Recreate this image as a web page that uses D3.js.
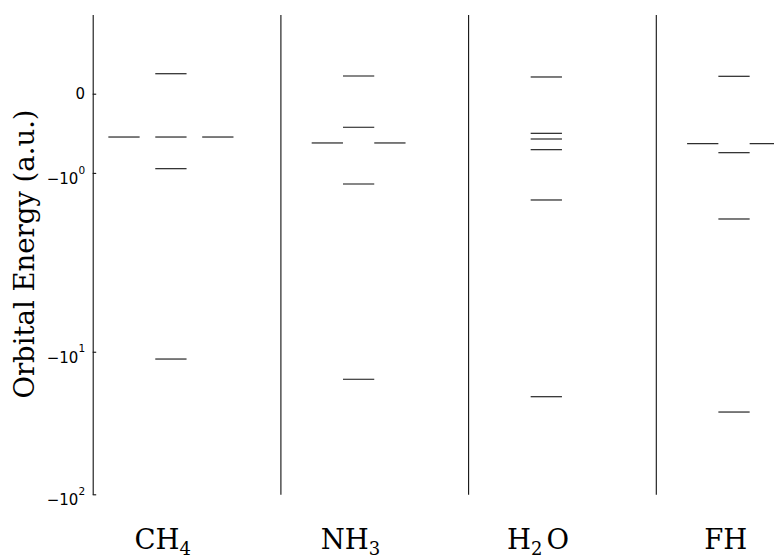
<!DOCTYPE html>
<html>
<head>
<meta charset="utf-8">
<script src="https://cdn.jsdelivr.net/npm/d3@7"></script>
<style>
  body { margin: 0; background: #fff; }
  svg { display: block; }
</style>
</head>
<body>
<svg id="chart" width="774" height="555"></svg>
<script>
// Molecules, one panel each
const molecules = ["CH4", "NH3", "H2O", "FH"];
// Axis label pieces: main part, subscript, trailing part
const labelMain = ["CH", "NH", "H", "FH"];
const labelSub = ["4", "3", "2", ""];
const labelTail = ["", "", "O", ""];

// Orbital energies in hartree; degenerate levels repeated
const energiesCH4 = [-11.25, -0.947, -0.547, -0.547, -0.547, 0.252];
const energiesNH3 = [-15.6, -1.14, -0.622, -0.622, -0.424, 0.223];
const energiesH2O = [-20.68, -1.342, -0.707, -0.572, -0.500, 0.211];
const energiesFH = [-26.48, -1.582, -0.745, -0.631, -0.631, 0.220];
const energies = [energiesCH4, energiesNH3, energiesH2O, energiesFH];

// Y ticks
const yTicks = [0, -1, -10, -100];
const yDomain = [1, -100];

const svg = d3.select("#chart");

// Symmetric-log transform (linthresh 2, linscale 1, base 10)
const linthresh = 2, linscaleAdj = 1 / (1 - 1 / 10);
function T(v) {
  const a = Math.abs(v);
  if (a <= linthresh) return v * linscaleAdj;
  return Math.sign(v) * linthresh * (linscaleAdj + Math.log10(a / linthresh));
}

const plotTop = 14.5, plotBottom = 494.3;
const yScale = d3.scaleLinear().domain(yDomain.map(T)).range([plotTop, plotBottom]);
const y = v => yScale(T(v));

const panelLeft = d3.scaleLinear().domain([0, 4]).range([92.7, 843.5]);
const panelW = panelLeft(1) - panelLeft(0);
const xUnit = d3.scaleLinear().domain([0, 6]).range([0, panelW]);

// Horizontal slots for a level depending on its degeneracy
const slots = {1: [2.5], 2: [1.5, 3.5], 3: [1, 2.5, 4]};

molecules.forEach((m, i) => {
  const g = svg.append("g").attr("transform", `translate(${panelLeft(i)},0)`);

  // spine (and ticks on the first panel)
  const axis = d3.axisLeft(yScale)
    .tickValues(i === 0 ? yTicks.map(T) : [])
    .tickSizeInner(-3.5)
    .tickSizeOuter(0)
    .tickFormat(() => "");
  const ax = g.append("g").call(axis);
  ax.select(".domain").attr("stroke", "#111").attr("stroke-width", 1.1);
  ax.selectAll(".tick line").attr("stroke", "#111").attr("stroke-width", 1.1);

  // group degenerate levels
  const groups = d3.groups(energies[i], e => e);
  const levels = [];
  groups.forEach(([e, arr]) => {
    slots[arr.length].forEach(c => levels.push({e, c}));
  });

  g.selectAll("line.level").data(levels).join("line")
    .attr("class", "level")
    .attr("x1", d => xUnit(d.c - 0.5))
    .attr("x2", d => xUnit(d.c + 0.5))
    .attr("y1", d => y(d.e))
    .attr("y2", d => y(d.e))
    .attr("stroke", "#111")
    .attr("stroke-width", 1.1);

  // molecule label
  const t = g.append("text")
    .attr("x", 70)
    .attr("y", 549.3)
    .attr("text-anchor", "middle")
    .attr("font-family", "DejaVu Serif")
    .attr("font-size", 27.5)
    .attr("fill", "#000");
  t.append("tspan").text(labelMain[i]);
  if (labelSub[i]) {
    t.append("tspan").attr("font-size", 18).attr("dy", 5.2).text(labelSub[i]);
  }
  if (labelTail[i]) {
    t.append("tspan").attr("dy", -5.2).attr("dx", 4).text(labelTail[i]);
  }
});

// Y tick labels on the first panel
const tl = svg.append("g").attr("font-family", "DejaVu Sans").attr("fill", "#000");
yTicks.forEach(v => {
  const yy = y(v);
  const x = panelLeft(0) - 7.6;
  if (v === 0) {
    tl.append("text").attr("x", x).attr("y", yy + 5.4)
      .attr("text-anchor", "end").attr("font-size", 15).text("0");
  } else {
    const txt = tl.append("text").attr("x", x).attr("y", yy + 10.9)
      .attr("text-anchor", "end").attr("font-size", 15);
    txt.append("tspan").text("\u221210");
    txt.append("tspan").attr("font-size", 10.5).attr("dy", -10.2).text(String(Math.round(Math.log10(-v))));
  }
});

// Y axis title
svg.append("text")
  .attr("transform", "translate(34,254) rotate(-90)")
  .attr("text-anchor", "middle")
  .attr("font-family", "DejaVu Serif")
  .attr("font-size", 27.5)
  .attr("fill", "#000")
  .text("Orbital Energy (a.u.)");
</script>
</body>
</html>
